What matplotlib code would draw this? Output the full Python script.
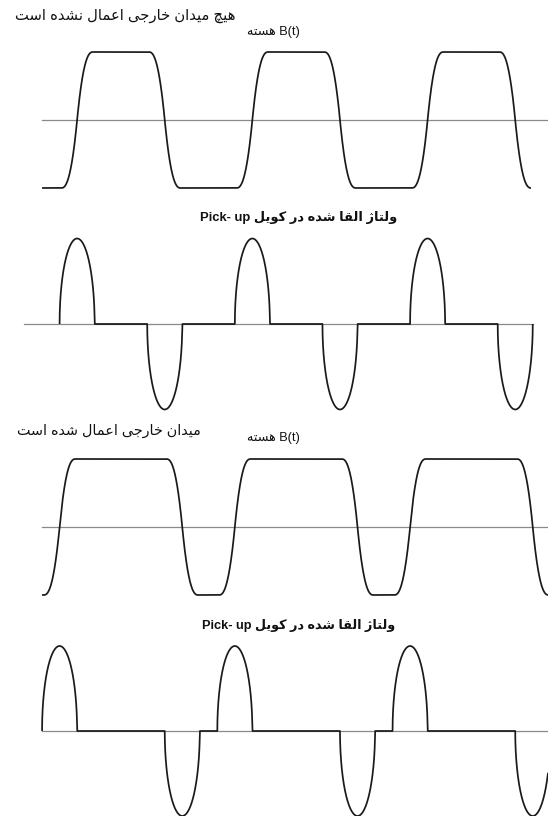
import numpy as np
import matplotlib

matplotlib.use("Agg")
import matplotlib.pyplot as plt

# time is measured in periods, t = 0 at the left end of the B(t) trace
rise_free = [0.2, 1.2, 2.2]  # B(t) rising zero crossings, no external field
fall_free = [0.7, 1.7, 2.7]  # B(t) falling zero crossings, no external field
rise_field = [0.1, 1.1, 2.1]  # rising crossings with external field
fall_field = [0.8, 1.8, 2.8]  # falling crossings with external field
edge_half = 0.09  # half duration of one B(t) transition
pulse_half = 0.1  # half width of one pick-up pulse
b_low, b_high = -1.0, 1.0
pulse_amp = 1.0

# where each trace starts and ends
b_free_span = (0.0, 2.79)
v_free_span = (0.1, 2.8)
b_field_span = (0.0, 2.89)
v_field_span = (0.0, 2.9)
base_b_span = (0.0, 2.9)
base_v_free_span = (-0.104, 2.8)
base_v_field_span = (0.0, 2.9)

title_free = "هیچ میدان خارجی اعمال نشده است"
title_field = "میدان خارجی اعمال شده است"
label_b = "B(t) هسته"
label_v = "ولتاژ القا شده در کویل Pick- up"

# ---- tiny Persian shaper (matplotlib has no bidi / joining support)
FORMS = {
    "ا": "\uFE8D\uFE8E",
    "د": "\uFEA9\uFEAA",
    "ر": "\uFEAD\uFEAE",
    "و": "\uFEED\uFEEE",
    "ژ": "\uFB8A\uFB8B",
    "ه": "\uFEE9\uFEEA\uFEEB\uFEEC",
    "ی": "\uFBFC\uFBFD\uFBFE\uFBFF",
    "چ": "\uFB7A\uFB7B\uFB7C\uFB7D",
    "م": "\uFEE1\uFEE2\uFEE3\uFEE4",
    "ن": "\uFEE5\uFEE6\uFEE7\uFEE8",
    "خ": "\uFEA5\uFEA6\uFEA7\uFEA8",
    "ج": "\uFE9D\uFE9E\uFE9F\uFEA0",
    "ع": "\uFEC9\uFECA\uFECB\uFECC",
    "ل": "\uFEDD\uFEDE\uFEDF\uFEE0",
    "ش": "\uFEB5\uFEB6\uFEB7\uFEB8",
    "س": "\uFEB1\uFEB2\uFEB3\uFEB4",
    "ت": "\uFE95\uFE96\uFE97\uFE98",
    "ق": "\uFED5\uFED6\uFED7\uFED8",
    "ک": "\uFB8E\uFB8F\uFB90\uFB91",
}


def shape_word(w):
    out = []
    for i, ch in enumerate(w):
        if ch not in FORMS:
            out.append(ch)
            continue
        f = FORMS[ch]
        prev = w[i - 1] if i > 0 else ""
        nxt = w[i + 1] if i + 1 < len(w) else ""
        join_prev = prev in FORMS and len(FORMS[prev]) == 4
        join_next = len(f) == 4 and nxt in FORMS
        if join_prev and join_next:
            out.append(f[3])
        elif join_prev:
            out.append(f[1])
        elif join_next:
            out.append(f[2])
        else:
            out.append(f[0])
    return "".join(out)


def rtl(text):
    groups = []
    for w in text.split(" "):
        is_ar = any(c in FORMS for c in w)
        if not is_ar and groups and not groups[-1][0]:
            groups[-1][1].append(w)
        else:
            groups.append([is_ar, [w]])
    parts = []
    for is_ar, ws in reversed(groups):
        if is_ar:
            parts.append(shape_word(ws[0])[::-1])
        else:
            parts.append(" ".join(ws))
    return " ".join(parts)


# ---- waveforms
def time_axis(span, marks):
    t = np.linspace(span[0], span[1], 20001)
    extra = [m for m in marks if span[0] <= m <= span[1]]
    return np.union1d(t, extra)


def edge_step(t, tc):
    s = np.clip((t - tc) / edge_half, -1, 1)
    return 0.5 * (1 + np.sign(s) * (1 - (1 - np.abs(s)) ** 2.4))


def b_trace(span, rises, falls):
    t = time_axis(span, [])
    b = np.full_like(t, b_low)
    for tc in rises:
        b += (b_high - b_low) * edge_step(t, tc)
    for tc in falls:
        b -= (b_high - b_low) * edge_step(t, tc)
    return t, b


def v_trace(span, rises, falls):
    marks = [c + d for c in rises + falls for d in (-pulse_half, pulse_half)]
    t = time_axis(span, marks)
    v = np.zeros_like(t)
    for tc in rises:
        u = (t - tc) / pulse_half
        v += pulse_amp * np.sqrt(np.clip(1 - u**2, 0, None))
    for tc in falls:
        u = (t - tc) / pulse_half
        v -= pulse_amp * np.sqrt(np.clip(1 - u**2, 0, None))
    return t, v


W, H = 548, 816
fig = plt.figure(figsize=(W / 100, H / 100), dpi=100)
fig.patch.set_facecolor("white")

XLIM = (-0.24, 2.887)
WAVE = dict(color="#1a1a1a", lw=1.25, zorder=3, solid_capstyle="butt")
BASE = dict(color="#8a8a8a", lw=0.9, zorder=2)


def panel(y_center, amp):
    # axes laid out in pixels: y_center is the zero line, amp the height of +1
    pad = 1.3
    ax = fig.add_axes([0, 1 - (y_center + pad * amp) / H, 1, 2 * pad * amp / H])
    ax.set_xlim(*XLIM)
    ax.set_ylim(-pad, pad)
    ax.axis("off")
    ax.patch.set_alpha(0)
    return ax


ax1 = panel(120, 68)
ax1.plot(base_b_span, [0, 0], **BASE)
ax1.plot(*b_trace(b_free_span, rise_free, fall_free), **WAVE)

ax2 = panel(324, 85.5)
ax2.plot(base_v_free_span, [0, 0], **BASE)
ax2.plot(*v_trace(v_free_span, rise_free, fall_free), **WAVE)

ax3 = panel(527, 68)
ax3.plot(base_b_span, [0, 0], **BASE)
ax3.plot(*b_trace(b_field_span, rise_field, fall_field), **WAVE)

ax4 = panel(731, 85)
ax4.plot(base_v_field_span, [0, 0], **BASE)
ax4.plot(*v_trace(v_field_span, rise_field, fall_field), **WAVE)

renderer = fig.canvas.get_renderer()


def put_text(x_px, y_px, s, width_px, weight="normal"):
    t = fig.text(x_px / W, 1 - y_px / H, rtl(s), ha="left", va="center",
                 fontsize=10, fontweight=weight, color="#111111",
                 family=["Liberation Sans", "DejaVu Sans"])
    w = t.get_window_extent(renderer).width
    t.set_fontsize(10 * width_px / w)
    return t


put_text(15, 16, title_free, 220)
put_text(247, 32, label_b, 53)
put_text(200, 218, label_v, 197, weight="bold")
put_text(17, 431, title_field, 185)
put_text(247, 438, label_b, 53)
put_text(202, 625, label_v, 193, weight="bold")

fig.savefig("out.png", dpi=100)
